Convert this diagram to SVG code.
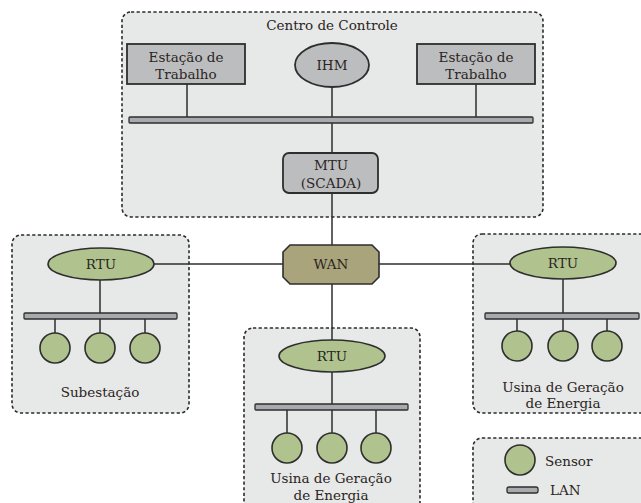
<svg xmlns="http://www.w3.org/2000/svg" width="641" height="503" viewBox="0 0 641 503">
<style>
.grp{fill:#e7e8e8;stroke:#2b2b2b;stroke-width:1.6;stroke-dasharray:3.2 2.4}
.box{fill:#bcbdbf;stroke:#2e2e2e;stroke-width:1.8}
.grn{fill:#b0c38f;stroke:#2e2e2e;stroke-width:1.6}
.wan{fill:#a9a47b;stroke:#2e2e2e;stroke-width:1.6}
.bus{fill:#a8aaad;stroke:#2e2e2e;stroke-width:1.3}
.ln{stroke:#2e2e2e;stroke-width:1.5;fill:none}
text{font-family:"DejaVu Serif","Liberation Serif",serif;font-size:13.5px;fill:#2a2522;text-anchor:middle}
.lg{text-anchor:start}
</style>
<rect x="0" y="0" width="641" height="503" fill="#ffffff"/>
<g id="groups">
<rect id="centro" class="grp" x="122" y="12" width="421" height="205" rx="9"/>
<rect id="subestacao" class="grp" x="12" y="235" width="177" height="178" rx="9"/>
<rect id="usina1" class="grp" x="244" y="328" width="176" height="190" rx="9"/>
<rect id="usina2" class="grp" x="473" y="234" width="180" height="179" rx="9"/>
<rect id="legenda" class="grp" x="473" y="438" width="180" height="80" rx="9"/>
</g>
<text x="332" y="30">Centro de Controle</text>
<g id="connectors">
<line class="ln" x1="187" y1="84" x2="187" y2="118"/>
<line class="ln" x1="476" y1="84" x2="476" y2="118"/>
<line class="ln" x1="332" y1="87" x2="332" y2="153"/>
<line class="ln" x1="332" y1="193" x2="332" y2="245"/>
<line class="ln" x1="332" y1="284" x2="332" y2="340"/>
<line class="ln" x1="154" y1="264" x2="283" y2="264"/>
<line class="ln" x1="379" y1="264" x2="510" y2="264"/>
<line class="ln" x1="100" y1="280" x2="100" y2="314"/>
<line class="ln" x1="55" y1="319" x2="55" y2="333"/>
<line class="ln" x1="100" y1="319" x2="100" y2="333"/>
<line class="ln" x1="145" y1="319" x2="145" y2="333"/>
<line class="ln" x1="332" y1="372" x2="332" y2="405"/>
<line class="ln" x1="287" y1="410" x2="287" y2="433"/>
<line class="ln" x1="332" y1="410" x2="332" y2="433"/>
<line class="ln" x1="376" y1="410" x2="376" y2="433"/>
<line class="ln" x1="563" y1="279" x2="563" y2="314"/>
<line class="ln" x1="517" y1="319" x2="517" y2="331"/>
<line class="ln" x1="563" y1="319" x2="563" y2="331"/>
<line class="ln" x1="607" y1="319" x2="607" y2="331"/>
</g>
<g id="estacao1"><rect class="box" x="127" y="44" width="118" height="40"/><text x="186" y="62">Estação de</text><text x="186" y="79">Trabalho</text></g>
<g id="ihm"><ellipse class="box" cx="332" cy="65" rx="37" ry="22"/><text x="332" y="70">IHM</text></g>
<g id="estacao2"><rect class="box" x="417" y="44" width="118" height="40"/><text x="476" y="62">Estação de</text><text x="476" y="79">Trabalho</text></g>
<g id="lan-centro"><rect class="bus" x="129" y="117" width="404" height="6" rx="1"/></g>
<g id="mtu"><rect class="box" x="283" y="153" width="95" height="40" rx="6"/><text x="331" y="170">MTU</text><text x="331" y="188">(SCADA)</text></g>
<g id="wan"><polygon class="wan" points="290,245 372,245 379,252 379,277 372,284 290,284 283,277 283,252"/><text x="331" y="269">WAN</text></g>
<g id="rtu-sub"><ellipse class="grn" cx="101" cy="264" rx="53" ry="16"/><text x="101" y="269">RTU</text></g>
<g id="lan-sub"><rect class="bus" x="24" y="313" width="153" height="6" rx="1"/></g>
<g id="sensores-sub"><circle class="grn" cx="55" cy="348" r="15"/><circle class="grn" cx="100" cy="348" r="15"/><circle class="grn" cx="145" cy="348" r="15"/></g>
<text x="100" y="397">Subestação</text>
<g id="rtu-usina1"><ellipse class="grn" cx="332" cy="356" rx="53" ry="16"/><text x="332" y="361">RTU</text></g>
<g id="lan-usina1"><rect class="bus" x="255" y="404" width="153" height="6" rx="1"/></g>
<g id="sensores-usina1"><circle class="grn" cx="287" cy="448" r="15"/><circle class="grn" cx="332" cy="448" r="15"/><circle class="grn" cx="376" cy="448" r="15"/></g>
<text x="331" y="483">Usina de Geração</text>
<text x="331" y="500">de Energia</text>
<g id="rtu-usina2"><ellipse class="grn" cx="563" cy="263" rx="53" ry="16"/><text x="563" y="268">RTU</text></g>
<g id="lan-usina2"><rect class="bus" x="485" y="313" width="154" height="6" rx="1"/></g>
<g id="sensores-usina2"><circle class="grn" cx="517" cy="346" r="15"/><circle class="grn" cx="563" cy="346" r="15"/><circle class="grn" cx="607" cy="346" r="15"/></g>
<text x="563" y="392">Usina de Geração</text>
<text x="563" y="408">de Energia</text>
<g id="legenda-itens">
<circle class="grn" cx="520" cy="460" r="15"/><text class="lg" x="545" y="466">Sensor</text>
<rect class="bus" x="507" y="487" width="31" height="6" rx="2"/><text class="lg" x="550" y="495">LAN</text>
</g>
</svg>
